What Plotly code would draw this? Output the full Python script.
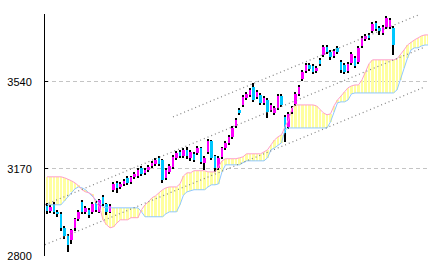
import plotly.graph_objects as go

# ---- candle data (bar index, open/high/low/close) ----
opens = [3013, 2991, 3017, 2987, 2979, 2919, 2885, 2868, 2919, 2957,
         3030, 2987, 2996, 2987, 3025, 2987, 3051, 3021, 2987, 3081,
         3110, 3093, 3106, 3132, 3115, 3136, 3140, 3174, 3153, 3166,
         3183, 3191, 3217, 3208, 3132, 3157, 3179, 3217, 3242, 3225,
         3251, 3217, 3234, 3238, 3259, 3196, 3242, 3289, 3225, 3174,
         3221, 3259, 3281, 3306, 3353, 3421, 3442, 3472, 3485, 3519,
         3476, 3485, 3451, 3463, 3421, 3408, 3429, 3480, 3391, 3349,
         3412, 3446, 3489, 3553, 3587, 3612, 3608, 3587, 3634, 3655,
         3689, 3668, 3651, 3685, 3625, 3612, 3587, 3621, 3642, 3625,
         3693, 3723, 3740, 3757, 3791, 3770, 3748, 3774, 3774, 3770]
closes = [2991, 3008, 2987, 2979, 2919, 2885, 2847, 2911, 2957, 2987,
          2987, 3004, 2974, 3021, 2996, 3038, 3021, 2987, 3013, 3106,
          3089, 3106, 3119, 3110, 3136, 3149, 3166, 3149, 3166, 3179,
          3196, 3208, 3191, 3123, 3166, 3183, 3221, 3238, 3225, 3251,
          3225, 3242, 3208, 3259, 3200, 3217, 3289, 3217, 3174, 3217,
          3259, 3281, 3306, 3344, 3378, 3408, 3476, 3489, 3506, 3463,
          3497, 3451, 3472, 3412, 3442, 3429, 3480, 3442, 3323, 3404,
          3429, 3489, 3519, 3583, 3612, 3595, 3583, 3600, 3617, 3689,
          3668, 3646, 3672, 3668, 3591, 3583, 3617, 3659, 3608, 3685,
          3727, 3736, 3727, 3787, 3765, 3757, 3774, 3812, 3804, 3697]
highs = [3025, 3017, 3030, 2996, 2987, 2928, 2894, 2915, 2962, 2996,
         3038, 3013, 3004, 3030, 3034, 3042, 3059, 3025, 3021, 3115,
         3119, 3115, 3127, 3140, 3140, 3157, 3174, 3183, 3174, 3187,
         3204, 3217, 3225, 3213, 3174, 3191, 3230, 3247, 3251, 3259,
         3264, 3251, 3242, 3268, 3264, 3225, 3298, 3293, 3230, 3225,
         3264, 3289, 3315, 3353, 3387, 3429, 3485, 3497, 3514, 3536,
         3506, 3493, 3480, 3472, 3451, 3438, 3489, 3489, 3400, 3412,
         3438, 3497, 3527, 3591, 3621, 3621, 3617, 3608, 3642, 3697,
         3697, 3676, 3680, 3693, 3634, 3621, 3625, 3668, 3651, 3693,
         3736, 3744, 3748, 3795, 3799, 3778, 3782, 3821, 3812, 3778]
lows = [2979, 2983, 2979, 2966, 2906, 2872, 2817, 2850, 2906, 2949,
        2979, 2979, 2962, 2979, 2987, 2983, 3013, 2974, 2983, 3072,
        3068, 3085, 3098, 3102, 3106, 3127, 3132, 3140, 3144, 3157,
        3174, 3183, 3183, 3110, 3123, 3149, 3170, 3208, 3217, 3217,
        3213, 3204, 3200, 3230, 3191, 3166, 3234, 3208, 3157, 3166,
        3213, 3251, 3272, 3298, 3344, 3400, 3434, 3463, 3476, 3455,
        3468, 3442, 3442, 3387, 3412, 3400, 3421, 3434, 3285, 3340,
        3404, 3438, 3480, 3544, 3578, 3587, 3574, 3578, 3608, 3646,
        3659, 3634, 3642, 3659, 3578, 3574, 3578, 3612, 3600, 3617,
        3685, 3714, 3719, 3748, 3757, 3740, 3740, 3765, 3765, 3655]

# ---- ichimoku cloud (leading spans, extend beyond last candle) ----
span_a = [3136, 3136, 3136, 3136, 3136, 3132, 3127, 3119, 3110, 3098,
          3081, 3072, 3068, 3059, 3025, 3008, 2953, 2932, 2919, 2923,
          2940, 2953, 2953, 2953, 2962, 2962, 2962, 2996, 3017, 3030,
          3047, 3055, 3068, 3081, 3089, 3093, 3093, 3093, 3106, 3140,
          3153, 3153, 3162, 3162, 3162, 3162, 3157, 3157, 3157, 3179,
          3204, 3213, 3213, 3213, 3213, 3217, 3221, 3234, 3234, 3234,
          3234, 3234, 3242, 3251, 3272, 3293, 3306, 3315, 3349, 3378,
          3429, 3442, 3442, 3442, 3442, 3442, 3442, 3438, 3421, 3408,
          3400, 3404, 3438, 3463, 3480, 3497, 3515, 3523, 3527, 3527,
          3549, 3583, 3617, 3634, 3634, 3634, 3634, 3634, 3634, 3634,
          3638, 3655, 3676, 3697, 3710, 3719, 3727, 3736, 3740, 3740]
span_b = [3017, 3017, 3017, 3017, 3017, 3034, 3051, 3072, 3085, 3093,
          3089, 3081, 3068, 3055, 3038, 3021, 3008, 3004, 3004, 3004,
          3004, 3004, 3004, 3004, 3004, 3004, 3004, 2987, 2966, 2966,
          2966, 2966, 2966, 2966, 2979, 2987, 2987, 2987, 3017, 3059,
          3072, 3076, 3081, 3081, 3081, 3081, 3093, 3102, 3102, 3106,
          3157, 3187, 3187, 3187, 3187, 3187, 3196, 3204, 3204, 3204,
          3204, 3204, 3204, 3217, 3251, 3259, 3272, 3281, 3336, 3344,
          3344, 3344, 3344, 3344, 3344, 3344, 3344, 3344, 3344, 3344,
          3344, 3370, 3412, 3451, 3455, 3455, 3463, 3489, 3493, 3493,
          3493, 3493, 3493, 3493, 3493, 3493, 3493, 3493, 3493, 3493,
          3506, 3549, 3600, 3642, 3676, 3685, 3685, 3693, 3697, 3697]

# ---- trend channel (start/end bar index and price) ----
chan_upper_x = [36, 106.6]
chan_upper_y = [3391, 3828]
chan_mid_x = [-0.57, 108]
chan_mid_y = [3017, 3689]
chan_low_x = [-0.57, 108]
chan_low_y = [2847, 3519]

tick_vals = [2800, 3170, 3540]
tick_text = ["2800", "3170", "3540"]

bars = list(range(len(closes)))
cloud_idx = list(range(len(span_a)))

UP = "#ff00ff"
DOWN = "#00c8ff"

fig = go.Figure()

# cloud as vertical stripes
fig.add_trace(go.Bar(
    x=cloud_idx,
    base=[min(a, b) for a, b in zip(span_a, span_b)],
    y=[abs(a - b) for a, b in zip(span_a, span_b)],
    width=0.62, marker=dict(color="#ffffa0", line=dict(width=0)),
    hoverinfo="skip"))

# wicks (bars, so they stay beneath the bodies)
fig.add_trace(go.Bar(x=bars, base=lows, y=[h - l for h, l in zip(highs, lows)],
                     width=0.29, marker=dict(color="black", line=dict(width=0)),
                     hoverinfo="skip"))

# bodies
up_x = [i for i, o, c in zip(bars, opens, closes) if c >= o]
up_b = [o for o, c in zip(opens, closes) if c >= o]
up_h = [c - o for o, c in zip(opens, closes) if c >= o]
dn_x = [i for i, o, c in zip(bars, opens, closes) if c < o]
dn_b = [c for o, c in zip(opens, closes) if c < o]
dn_h = [o - c for o, c in zip(opens, closes) if c < o]
fig.add_trace(go.Bar(x=up_x, base=up_b, y=up_h, width=0.82,
                     marker=dict(color=UP, line=dict(width=0)), hoverinfo="skip"))
fig.add_trace(go.Bar(x=dn_x, base=dn_b, y=dn_h, width=0.82,
                     marker=dict(color=DOWN, line=dict(width=0)), hoverinfo="skip"))

# cloud edges
fig.add_trace(go.Scatter(x=cloud_idx, y=span_b, mode="lines",
                         line=dict(color="#90c8ff", width=1), hoverinfo="skip"))
fig.add_trace(go.Scatter(x=cloud_idx, y=span_a, mode="lines",
                         line=dict(color="#ffa0c8", width=1), hoverinfo="skip"))

# trend channel
for xs, ys in [(chan_upper_x, chan_upper_y), (chan_mid_x, chan_mid_y), (chan_low_x, chan_low_y)]:
    fig.add_trace(go.Scatter(x=xs, y=ys, mode="lines",
                             line=dict(color="#808080", width=1.2, dash="1px,3px"),
                             hoverinfo="skip"))

fig.update_layout(
    width=433, height=270,
    margin=dict(l=45, r=5, t=14, b=14),
    paper_bgcolor="white", plot_bgcolor="white",
    showlegend=False, barmode="overlay", bargap=0,
)
fig.update_xaxes(range=[-0.571, 108.857], visible=False, showgrid=False, zeroline=False)
fig.update_yaxes(
    range=[2799, 3829], tickvals=tick_vals, ticktext=tick_text,
    showgrid=True, gridcolor="#c4c4c4", griddash="4px,3px", gridwidth=1,
    showline=True, linecolor="black", linewidth=1,
    ticks="inside", ticklen=3, tickcolor="black",
    tickfont=dict(family="Liberation Sans, Arial, sans-serif", size=11, color="black"),
    ticklabelstandoff=10, zeroline=False,
)

fig.write_html("out.html", config={"displayModeBar": False})
